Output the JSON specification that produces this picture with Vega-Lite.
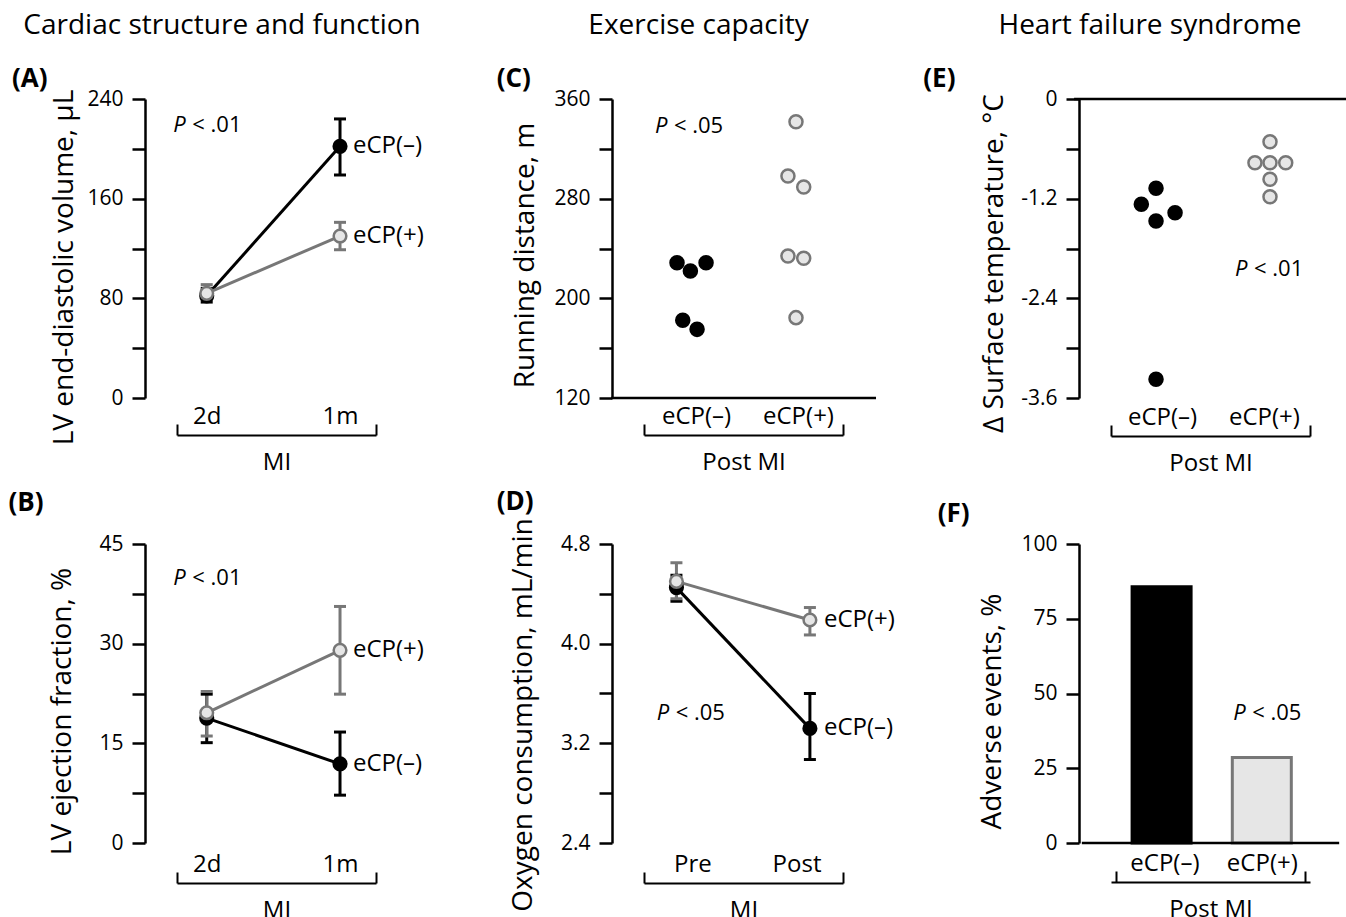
{
  "$schema": "https://vega.github.io/schema/vega-lite/v6.json",
  "background": "white",
  "padding": {"left": 8, "top": 11, "right": 0, "bottom": 0},
  "config": {
    "font": "Open Sans",
    "view": {"stroke": null},
    "axis": {"grid": false, "domainColor": "black", "tickColor": "black", "labelColor": "black", "titleColor": "black", "titleFontWeight": "normal", "labelOverlap": false, "labelFlush": false, "labelBound": false},
    "axisX": {"domainWidth": 2, "tickWidth": 2, "tickSize": -11, "labelFontSize": 24, "labelBaseline": "alphabetic", "labelAlign": "center", "labelPadding": -1, "titleFontSize": 24, "titlePadding": 33, "titleBaseline": "alphabetic"},
    "axisY": {"domainWidth": 2.5, "tickWidth": 2.5, "tickSize": 13, "labelFontSize": 21, "labelPadding": 9, "titleFontSize": 28, "offset": 32, "minExtent": 58, "maxExtent": 58, "titleBaseline": "bottom"}
  },
  "datasets": {
    "A": [
      {"grp": "eCP(–)", "t": 1, "mean": 82, "lo": 77, "hi": 88},
      {"grp": "eCP(–)", "t": 2, "mean": 202, "lo": 179, "hi": 224},
      {"grp": "eCP(+)", "t": 1, "mean": 84, "lo": 79, "hi": 91},
      {"grp": "eCP(+)", "t": 2, "mean": 130, "lo": 119, "hi": 141}
    ],
    "B": [
      {"grp": "eCP(–)", "t": 1, "mean": 18.8, "lo": 15.1, "hi": 22.4},
      {"grp": "eCP(–)", "t": 2, "mean": 11.9, "lo": 7.2, "hi": 16.7},
      {"grp": "eCP(+)", "t": 1, "mean": 19.6, "lo": 16.1, "hi": 22.8},
      {"grp": "eCP(+)", "t": 2, "mean": 29.0, "lo": 22.4, "hi": 35.6}
    ],
    "C": [
      {"grp": "eCP(–)", "xpos": 0.861, "val": 228.6},
      {"grp": "eCP(–)", "xpos": 0.989, "val": 221.9},
      {"grp": "eCP(–)", "xpos": 1.139, "val": 228.6},
      {"grp": "eCP(–)", "xpos": 0.916, "val": 182.4},
      {"grp": "eCP(–)", "xpos": 1.053, "val": 175.1},
      {"grp": "eCP(+)", "xpos": 2.0, "val": 341.8},
      {"grp": "eCP(+)", "xpos": 1.923, "val": 298.2},
      {"grp": "eCP(+)", "xpos": 2.074, "val": 289.4},
      {"grp": "eCP(+)", "xpos": 1.923, "val": 234.0},
      {"grp": "eCP(+)", "xpos": 2.074, "val": 232.1},
      {"grp": "eCP(+)", "xpos": 2.0, "val": 184.5}
    ],
    "D": [
      {"grp": "eCP(–)", "t": 1, "mean": 4.45, "lo": 4.34, "hi": 4.55},
      {"grp": "eCP(–)", "t": 2, "mean": 3.32, "lo": 3.07, "hi": 3.60},
      {"grp": "eCP(+)", "t": 1, "mean": 4.50, "lo": 4.36, "hi": 4.65},
      {"grp": "eCP(+)", "t": 2, "mean": 4.19, "lo": 4.07, "hi": 4.29}
    ],
    "E": [
      {"grp": "eCP(–)", "xpos": 1.0, "val": -1.075},
      {"grp": "eCP(–)", "xpos": 0.871, "val": -1.268},
      {"grp": "eCP(–)", "xpos": 1.167, "val": -1.369},
      {"grp": "eCP(–)", "xpos": 1.0, "val": -1.469},
      {"grp": "eCP(–)", "xpos": 1.0, "val": -3.375},
      {"grp": "eCP(+)", "xpos": 2.0, "val": -0.514},
      {"grp": "eCP(+)", "xpos": 1.868, "val": -0.767},
      {"grp": "eCP(+)", "xpos": 2.0, "val": -0.767},
      {"grp": "eCP(+)", "xpos": 2.138, "val": -0.767},
      {"grp": "eCP(+)", "xpos": 2.0, "val": -0.967},
      {"grp": "eCP(+)", "xpos": 2.0, "val": -1.176}
    ],
    "F": [
      {"grp": "eCP(–)", "g": 1, "pct": 85.7},
      {"grp": "eCP(+)", "g": 2, "pct": 28.6}
    ]
  },
  "columns": 3,
  "spacing": {"row": 146, "column": 268},
  "bounds": "flush",
  "concat": [
    {
      "width": 199, "height": 299,
      "data": {"name": "A"},
      "layer": [
        {
          "mark": {"type": "line", "strokeWidth": 3},
          "encoding": {
            "x": {"field": "t", "type": "quantitative", "scale": {"domain": [0.777, 2.27], "nice": false, "zero": false},
              "axis": {"values": [0.777, 1, 2, 2.27], "labelExpr": "datum.value > 0.9 && datum.value < 1.5 ? '2d' : (datum.value > 1.5 && datum.value < 2.1 ? '1m' : '')", "tickOpacity": {"condition": {"test": "datum.value > 0.8 && datum.value < 2.25", "value": 0}, "value": 1}, "title": "MI", "offset": 37}},
            "y": {"field": "mean", "type": "quantitative", "scale": {"domain": [0, 240], "nice": false, "zero": false},
              "axis": {"values": [0, 40, 80, 120, 160, 200, 240], "labelExpr": "datum.value % 80 == 0 ? format(datum.value, 'd') : ''", "title": "LV end-diastolic volume, µL", "titleY": 168, "titlePadding": 9}},
            "color": {"field": "grp", "type": "nominal", "scale": {"domain": ["eCP(–)", "eCP(+)"], "range": ["#000000", "#777777"]}, "legend": null}
          }
        },
        {
          "mark": {"type": "rule", "strokeWidth": 3},
          "encoding": {"x": {"field": "t", "type": "quantitative"}, "y": {"field": "lo", "type": "quantitative"}, "y2": {"field": "hi"}, "color": {"field": "grp", "type": "nominal", "legend": null}}
        },
        {
          "mark": {"type": "tick", "orient": "horizontal", "size": 12, "thickness": 3, "opacity": 1},
          "encoding": {"x": {"field": "t", "type": "quantitative"}, "y": {"field": "lo", "type": "quantitative"}, "color": {"field": "grp", "type": "nominal", "legend": null}}
        },
        {
          "mark": {"type": "tick", "orient": "horizontal", "size": 12, "thickness": 3, "opacity": 1},
          "encoding": {"x": {"field": "t", "type": "quantitative"}, "y": {"field": "hi", "type": "quantitative"}, "color": {"field": "grp", "type": "nominal", "legend": null}}
        },
        {
          "mark": {"type": "circle", "size": 160, "strokeWidth": 2.5, "opacity": 1},
          "encoding": {
            "x": {"field": "t", "type": "quantitative"}, "y": {"field": "mean", "type": "quantitative"},
            "fill": {"field": "grp", "type": "nominal", "scale": {"domain": ["eCP(–)", "eCP(+)"], "range": ["#000000", "#e6e6e6"]}, "legend": null},
            "stroke": {"field": "grp", "type": "nominal", "scale": {"domain": ["eCP(–)", "eCP(+)"], "range": ["#000000", "#777777"]}, "legend": null}
          }
        },
        {
          "transform": [{"filter": "datum.t == 2"}],
          "mark": {"type": "text", "align": "left", "baseline": "middle", "dx": 13, "fontSize": 24, "color": "black"},
          "encoding": {"x": {"field": "t", "type": "quantitative"}, "y": {"field": "mean", "type": "quantitative"}, "text": {"field": "grp"}}
        },
        {"data": {"values": [{}]}, "mark": {"type": "text", "text": "Cardiac structure and function", "fontSize": 28, "align": "center", "baseline": "alphabetic", "color": "black"}, "encoding": {"x": {"datum": 1.115}, "y": {"datum": 292.2}}},
        {"data": {"values": [{}]}, "mark": {"type": "text", "text": "(A)", "fontSize": 26, "fontWeight": "bold", "align": "left", "baseline": "alphabetic", "color": "black"}, "encoding": {"x": {"datum": -0.461}, "y": {"datum": 249.6}}},
        {"data": {"values": [{}]}, "mark": {"type": "text", "text": "P", "fontStyle": "italic", "fontSize": 22, "align": "left", "baseline": "alphabetic", "color": "black"}, "encoding": {"x": {"datum": 0.749}, "y": {"datum": 213.8}}},
        {"data": {"values": [{}]}, "mark": {"type": "text", "text": "< .01", "dx": 19, "fontSize": 22, "align": "left", "baseline": "alphabetic", "color": "black"}, "encoding": {"x": {"datum": 0.749}, "y": {"datum": 213.8}}}
      ]
    },
    {
      "width": 199, "height": 299,
      "data": {"name": "C"},
      "layer": [
        {
          "data": {"values": [{}]},
          "mark": {"type": "rule", "strokeWidth": 2.5, "color": "black"},
          "encoding": {
            "x": {"datum": 0.23, "type": "quantitative", "scale": {"domain": [0.545, 2.45], "nice": false, "zero": false},
              "axis": {"values": [0.545, 1.043, 2.019, 2.45], "labelExpr": "datum.value > 0.6 && datum.value < 1.5 ? 'eCP(–)' : (datum.value > 1.5 && datum.value < 2.3 ? 'eCP(+)' : '')", "tickOpacity": {"condition": {"test": "datum.value > 0.6 && datum.value < 2.4", "value": 0}, "value": 1}, "title": "Post MI", "offset": 37}},
            "x2": {"datum": 2.766},
            "y": {"datum": 120, "type": "quantitative", "scale": {"domain": [120, 360], "nice": false, "zero": false},
              "axis": {"values": [120, 160, 200, 240, 280, 320, 360], "labelExpr": "(datum.value - 120) % 80 == 0 ? format(datum.value, 'd') : ''", "title": "Running distance, m", "titleY": 156, "titlePadding": 15}}
          }
        },
        {
          "mark": {"type": "circle", "size": 170, "strokeWidth": 2.5, "opacity": 1},
          "encoding": {
            "x": {"field": "xpos", "type": "quantitative"},
            "y": {"field": "val", "type": "quantitative"},
            "fill": {"field": "grp", "type": "nominal", "scale": {"domain": ["eCP(–)", "eCP(+)"], "range": ["#000000", "#e6e6e6"]}, "legend": null},
            "stroke": {"field": "grp", "type": "nominal", "scale": {"domain": ["eCP(–)", "eCP(+)"], "range": ["#000000", "#777777"]}, "legend": null}
          }
        },
        {"data": {"values": [{}]}, "mark": {"type": "text", "text": "Exercise capacity", "fontSize": 28, "align": "center", "baseline": "alphabetic", "color": "black"}, "encoding": {"x": {"datum": 1.067}, "y": {"datum": 412.2}}},
        {"data": {"values": [{}]}, "mark": {"type": "text", "text": "(C)", "fontSize": 26, "fontWeight": "bold", "align": "left", "baseline": "alphabetic", "color": "black"}, "encoding": {"x": {"datum": -0.865}, "y": {"datum": 369.6}}},
        {"data": {"values": [{}]}, "mark": {"type": "text", "text": "P", "fontStyle": "italic", "fontSize": 22, "align": "left", "baseline": "alphabetic", "color": "black"}, "encoding": {"x": {"datum": 0.65}, "y": {"datum": 333.0}}},
        {"data": {"values": [{}]}, "mark": {"type": "text", "text": "< .05", "dx": 19, "fontSize": 22, "align": "left", "baseline": "alphabetic", "color": "black"}, "encoding": {"x": {"datum": 0.65}, "y": {"datum": 333.0}}}
      ]
    },
    {
      "width": 199, "height": 299,
      "data": {"name": "E"},
      "layer": [
        {
          "data": {"values": [{}]},
          "mark": {"type": "rule", "strokeWidth": 2.5, "color": "black"},
          "encoding": {
            "x": {"datum": 0.281, "type": "quantitative", "scale": {"domain": [0.605, 2.351], "nice": false, "zero": false},
              "axis": {"values": [0.605, 1.053, 1.947, 2.351], "labelExpr": "datum.value > 0.7 && datum.value < 1.5 ? 'eCP(–)' : (datum.value > 1.5 && datum.value < 2.3 ? 'eCP(+)' : '')", "tickOpacity": {"condition": {"test": "datum.value > 0.7 && datum.value < 2.3", "value": 0}, "value": 1}, "title": "Post MI", "offset": 38}},
            "x2": {"datum": 2.667},
            "y": {"datum": 0, "type": "quantitative", "scale": {"domain": [-3.6, 0], "nice": false, "zero": false},
              "axis": {"values": [0, -0.6, -1.2, -1.8, -2.4, -3, -3.6], "labelExpr": "round(-datum.value * 10) % 12 == 0 ? (datum.value == 0 ? '0' : '-' + format(-datum.value, '.1f')) : ''", "title": "Δ Surface  temperature, °C", "titleY": 164, "titlePadding": 13}}
          }
        },
        {
          "mark": {"type": "circle", "size": 170, "strokeWidth": 2.5, "opacity": 1},
          "encoding": {
            "x": {"field": "xpos", "type": "quantitative"},
            "y": {"field": "val", "type": "quantitative"},
            "fill": {"field": "grp", "type": "nominal", "scale": {"domain": ["eCP(–)", "eCP(+)"], "range": ["#000000", "#e6e6e6"]}, "legend": null},
            "stroke": {"field": "grp", "type": "nominal", "scale": {"domain": ["eCP(–)", "eCP(+)"], "range": ["#000000", "#777777"]}, "legend": null}
          }
        },
        {"data": {"values": [{}]}, "mark": {"type": "text", "text": "Heart failure syndrome", "fontSize": 28, "align": "center", "baseline": "alphabetic", "color": "black"}, "encoding": {"x": {"datum": 0.947}, "y": {"datum": 0.783}}},
        {"data": {"values": [{}]}, "mark": {"type": "text", "text": "(E)", "fontSize": 26, "fontWeight": "bold", "align": "left", "baseline": "alphabetic", "color": "black"}, "encoding": {"x": {"datum": -1.042}, "y": {"datum": 0.1445}}},
        {"data": {"values": [{}]}, "mark": {"type": "text", "text": "P", "fontStyle": "italic", "fontSize": 22, "align": "left", "baseline": "alphabetic", "color": "black"}, "encoding": {"x": {"datum": 1.693}, "y": {"datum": -2.131}}},
        {"data": {"values": [{}]}, "mark": {"type": "text", "text": "< .01", "dx": 19, "fontSize": 22, "align": "left", "baseline": "alphabetic", "color": "black"}, "encoding": {"x": {"datum": 1.693}, "y": {"datum": -2.131}}}
      ]
    },
    {
      "width": 199, "height": 299,
      "data": {"name": "B"},
      "layer": [
        {
          "mark": {"type": "line", "strokeWidth": 3},
          "encoding": {
            "x": {"field": "t", "type": "quantitative", "scale": {"domain": [0.777, 2.27], "nice": false, "zero": false},
              "axis": {"values": [0.777, 1, 2, 2.27], "labelExpr": "datum.value > 0.9 && datum.value < 1.5 ? '2d' : (datum.value > 1.5 && datum.value < 2.1 ? '1m' : '')", "tickOpacity": {"condition": {"test": "datum.value > 0.8 && datum.value < 2.25", "value": 0}, "value": 1}, "title": "MI", "offset": 40}},
            "y": {"field": "mean", "type": "quantitative", "scale": {"domain": [0, 45], "nice": false, "zero": false},
              "axis": {"values": [0, 7.5, 15, 22.5, 30, 37.5, 45], "labelExpr": "datum.value % 15 == 0 ? format(datum.value, 'd') : ''", "title": "LV ejection fraction, %", "titleY": 167, "titlePadding": 11}},
            "color": {"field": "grp", "type": "nominal", "scale": {"domain": ["eCP(–)", "eCP(+)"], "range": ["#000000", "#777777"]}, "legend": null}
          }
        },
        {
          "mark": {"type": "rule", "strokeWidth": 3},
          "encoding": {"x": {"field": "t", "type": "quantitative"}, "y": {"field": "lo", "type": "quantitative"}, "y2": {"field": "hi"}, "color": {"field": "grp", "type": "nominal", "legend": null}}
        },
        {
          "mark": {"type": "tick", "orient": "horizontal", "size": 12, "thickness": 3, "opacity": 1},
          "encoding": {"x": {"field": "t", "type": "quantitative"}, "y": {"field": "lo", "type": "quantitative"}, "color": {"field": "grp", "type": "nominal", "legend": null}}
        },
        {
          "mark": {"type": "tick", "orient": "horizontal", "size": 12, "thickness": 3, "opacity": 1},
          "encoding": {"x": {"field": "t", "type": "quantitative"}, "y": {"field": "hi", "type": "quantitative"}, "color": {"field": "grp", "type": "nominal", "legend": null}}
        },
        {
          "mark": {"type": "circle", "size": 160, "strokeWidth": 2.5, "opacity": 1},
          "encoding": {
            "x": {"field": "t", "type": "quantitative"}, "y": {"field": "mean", "type": "quantitative"},
            "fill": {"field": "grp", "type": "nominal", "scale": {"domain": ["eCP(–)", "eCP(+)"], "range": ["#000000", "#e6e6e6"]}, "legend": null},
            "stroke": {"field": "grp", "type": "nominal", "scale": {"domain": ["eCP(–)", "eCP(+)"], "range": ["#000000", "#777777"]}, "legend": null}
          }
        },
        {
          "transform": [{"filter": "datum.t == 2"}],
          "mark": {"type": "text", "align": "left", "baseline": "middle", "dx": 13, "fontSize": 24, "color": "black"},
          "encoding": {"x": {"field": "t", "type": "quantitative"}, "y": {"field": "mean", "type": "quantitative"}, "text": {"field": "grp"}}
        },
        {"data": {"values": [{}]}, "mark": {"type": "text", "text": "(B)", "fontSize": 26, "fontWeight": "bold", "align": "left", "baseline": "alphabetic", "color": "black"}, "encoding": {"x": {"datum": -0.488}, "y": {"datum": 49.9}}},
        {"data": {"values": [{}]}, "mark": {"type": "text", "text": "P", "fontStyle": "italic", "fontSize": 22, "align": "left", "baseline": "alphabetic", "color": "black"}, "encoding": {"x": {"datum": 0.749}, "y": {"datum": 38.9}}},
        {"data": {"values": [{}]}, "mark": {"type": "text", "text": "< .01", "dx": 19, "fontSize": 22, "align": "left", "baseline": "alphabetic", "color": "black"}, "encoding": {"x": {"datum": 0.749}, "y": {"datum": 38.9}}}
      ]
    },
    {
      "width": 199, "height": 299,
      "data": {"name": "D"},
      "layer": [
        {
          "mark": {"type": "line", "strokeWidth": 3},
          "encoding": {
            "x": {"field": "t", "type": "quantitative", "scale": {"domain": [0.757, 2.248], "nice": false, "zero": false},
              "axis": {"values": [0.757, 1.12, 1.9, 2.248], "labelExpr": "datum.value > 0.8 && datum.value < 1.5 ? 'Pre' : (datum.value > 1.5 && datum.value < 2.2 ? 'Post' : '')", "tickOpacity": {"condition": {"test": "datum.value > 0.8 && datum.value < 2.2", "value": 0}, "value": 1}, "title": "MI", "offset": 40}},
            "y": {"field": "mean", "type": "quantitative", "scale": {"domain": [2.4, 4.8], "nice": false, "zero": false},
              "axis": {"values": [2.4, 2.8, 3.2, 3.6, 4.0, 4.4, 4.8], "labelExpr": "round(datum.value * 10) % 8 == 0 ? format(datum.value, '.1f') : ''", "title": "Oxygen consumption, mL/min", "titleY": 170.5, "titlePadding": 17}},
            "color": {"field": "grp", "type": "nominal", "scale": {"domain": ["eCP(–)", "eCP(+)"], "range": ["#000000", "#777777"]}, "legend": null}
          }
        },
        {
          "mark": {"type": "rule", "strokeWidth": 3},
          "encoding": {"x": {"field": "t", "type": "quantitative"}, "y": {"field": "lo", "type": "quantitative"}, "y2": {"field": "hi"}, "color": {"field": "grp", "type": "nominal", "legend": null}}
        },
        {
          "mark": {"type": "tick", "orient": "horizontal", "size": 12, "thickness": 3, "opacity": 1},
          "encoding": {"x": {"field": "t", "type": "quantitative"}, "y": {"field": "lo", "type": "quantitative"}, "color": {"field": "grp", "type": "nominal", "legend": null}}
        },
        {
          "mark": {"type": "tick", "orient": "horizontal", "size": 12, "thickness": 3, "opacity": 1},
          "encoding": {"x": {"field": "t", "type": "quantitative"}, "y": {"field": "hi", "type": "quantitative"}, "color": {"field": "grp", "type": "nominal", "legend": null}}
        },
        {
          "mark": {"type": "circle", "size": 160, "strokeWidth": 2.5, "opacity": 1},
          "encoding": {
            "x": {"field": "t", "type": "quantitative"}, "y": {"field": "mean", "type": "quantitative"},
            "fill": {"field": "grp", "type": "nominal", "scale": {"domain": ["eCP(–)", "eCP(+)"], "range": ["#000000", "#e6e6e6"]}, "legend": null},
            "stroke": {"field": "grp", "type": "nominal", "scale": {"domain": ["eCP(–)", "eCP(+)"], "range": ["#000000", "#777777"]}, "legend": null}
          }
        },
        {
          "transform": [{"filter": "datum.t == 2"}],
          "mark": {"type": "text", "align": "left", "baseline": "middle", "dx": 14, "fontSize": 24, "color": "black"},
          "encoding": {"x": {"field": "t", "type": "quantitative"}, "y": {"field": "mean", "type": "quantitative"}, "text": {"field": "grp"}}
        },
        {"data": {"values": [{}]}, "mark": {"type": "text", "text": "(D)", "fontSize": 26, "fontWeight": "bold", "align": "left", "baseline": "alphabetic", "color": "black"}, "encoding": {"x": {"datum": -0.347}, "y": {"datum": 5.073}}},
        {"data": {"values": [{}]}, "mark": {"type": "text", "text": "P", "fontStyle": "italic", "fontSize": 22, "align": "left", "baseline": "alphabetic", "color": "black"}, "encoding": {"x": {"datum": 0.852}, "y": {"datum": 3.385}}},
        {"data": {"values": [{}]}, "mark": {"type": "text", "text": "< .05", "dx": 19, "fontSize": 22, "align": "left", "baseline": "alphabetic", "color": "black"}, "encoding": {"x": {"datum": 0.852}, "y": {"datum": 3.385}}}
      ]
    },
    {
      "width": 199, "height": 299,
      "data": {"name": "F"},
      "layer": [
        {
          "mark": {"type": "bar", "orient": "vertical", "size": 59, "strokeWidth": 3},
          "encoding": {
            "x": {"field": "g", "type": "quantitative", "scale": {"domain": [0.545, 2.431], "nice": false, "zero": false},
              "axis": {"values": [0.545, 1.028, 2.0, 2.431], "labelExpr": "datum.value > 0.6 && datum.value < 1.5 ? 'eCP(–)' : (datum.value > 1.5 && datum.value < 2.3 ? 'eCP(+)' : '')", "tickOpacity": {"condition": {"test": "datum.value > 0.6 && datum.value < 2.4", "value": 0}, "value": 1}, "title": "Post MI", "offset": 39}},
            "y": {"field": "pct", "type": "quantitative", "scale": {"domain": [0, 100], "nice": false, "zero": false},
              "axis": {"values": [0, 25, 50, 75, 100], "labelExpr": "format(datum.value, 'd')", "title": "Adverse events, %", "titleY": 167, "titlePadding": 15}},
            "y2": {"datum": 0},
            "fill": {"field": "grp", "type": "nominal", "scale": {"domain": ["eCP(–)", "eCP(+)"], "range": ["#000000", "#eeeeee"]}, "legend": null},
            "stroke": {"field": "grp", "type": "nominal", "scale": {"domain": ["eCP(–)", "eCP(+)"], "range": ["#000000", "#707070"]}, "legend": null}
          }
        },
        {
          "data": {"values": [{}]},
          "mark": {"type": "rule", "strokeWidth": 2.5, "color": "black"},
          "encoding": {"x": {"datum": 0.204}, "x2": {"datum": 2.772}, "y": {"datum": 0}}
        },
        {"data": {"values": [{}]}, "mark": {"type": "text", "text": "(F)", "fontSize": 26, "fontWeight": "bold", "align": "left", "baseline": "alphabetic", "color": "black"}, "encoding": {"x": {"datum": -1.234}, "y": {"datum": 107.4}}},
        {"data": {"values": [{}]}, "mark": {"type": "text", "text": "P", "fontStyle": "italic", "fontSize": 22, "align": "left", "baseline": "alphabetic", "color": "black"}, "encoding": {"x": {"datum": 1.714}, "y": {"datum": 41.0}}},
        {"data": {"values": [{}]}, "mark": {"type": "text", "text": "< .05", "dx": 19, "fontSize": 22, "align": "left", "baseline": "alphabetic", "color": "black"}, "encoding": {"x": {"datum": 1.714}, "y": {"datum": 41.0}}}
      ]
    }
  ]
}
